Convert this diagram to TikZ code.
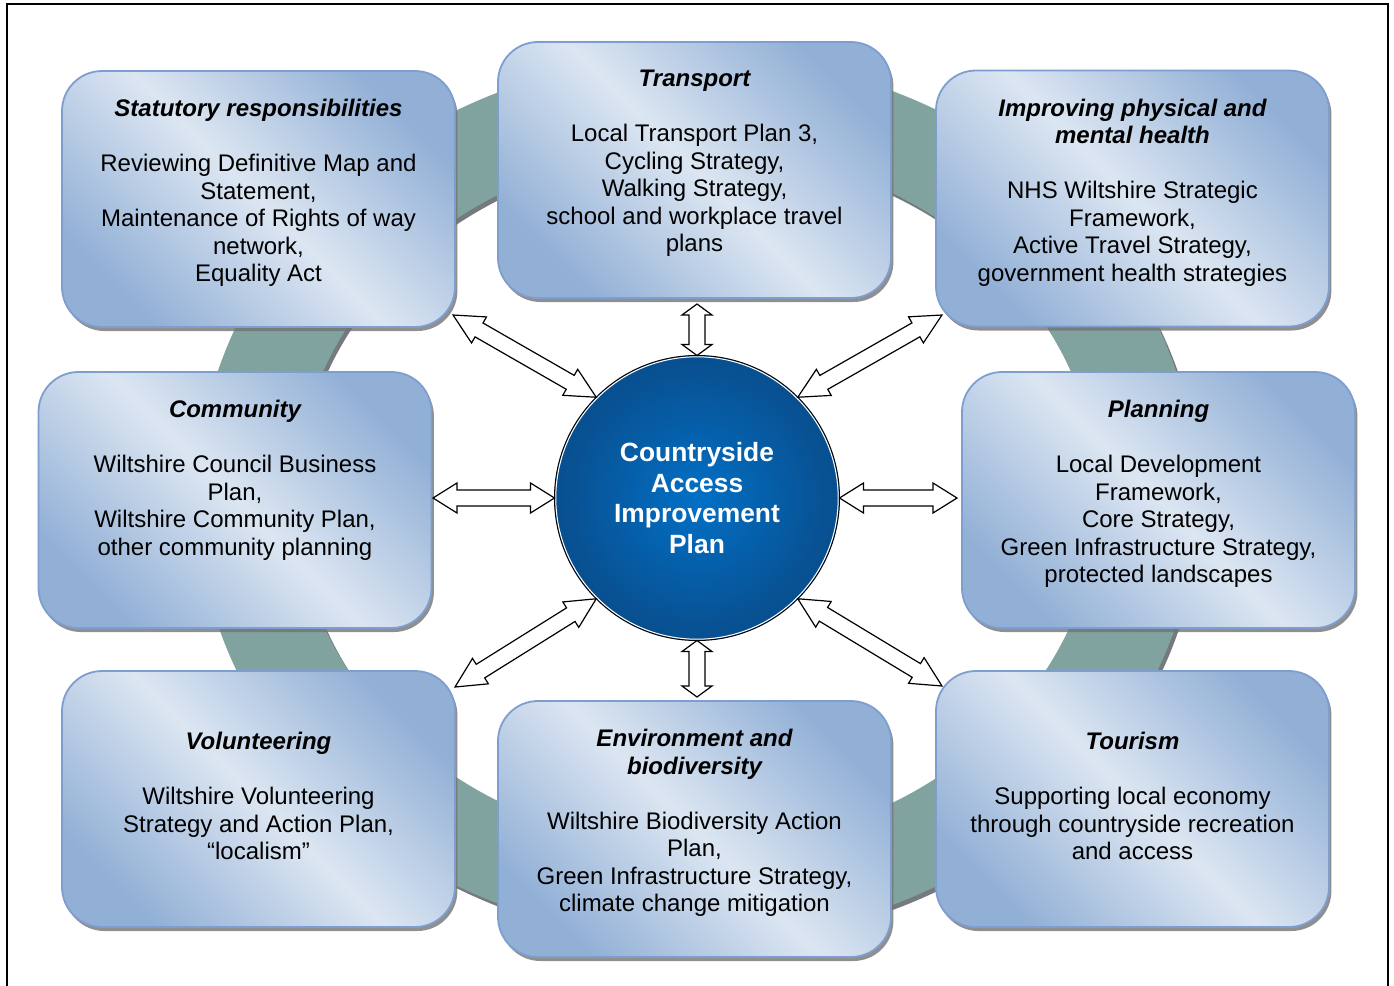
\documentclass[tikz,border=0pt]{standalone}
\usepackage{fontspec}
\setmainfont{Liberation Sans}
\usetikzlibrary{calc,positioning,shadows}

\definecolor{panellight}{RGB}{220,230,242}
\definecolor{panelblue}{RGB}{146,176,214}
\definecolor{panelline}{RGB}{125,158,206}
\definecolor{ringteal}{RGB}{128,163,159}
\definecolor{ringshade}{RGB}{118,122,126}
\definecolor{hubmid}{RGB}{2,112,198}
\definecolor{hubhalf}{RGB}{8,82,148}
\definecolor{hubrim}{RGB}{10,60,106}

\pgfdeclareradialshading{hubglow}{\pgfpoint{0bp}{0bp}}{%
	color(0bp)=(hubmid); color(22bp)=(hubhalf); color(50bp)=(hubrim)}

\tikzset{
	panel/.style={
			rounded corners=20pt, minimum width=196.5pt, minimum height=128pt,
			inner sep=0pt, outer sep=0pt, draw=panelline, line width=0.9pt,
			top color=panelblue, bottom color=panelblue, middle color=panellight,
			shading angle=-45,
			drop shadow={shadow xshift=1.2pt, shadow yshift=-2pt, fill=black!55, opacity=0.8}
		},
	paneltxt/.style={
			align=center, inner sep=0pt,
			font=\fontsize{12}{13.75}\selectfont
		},
	hub/.style={
			circle, minimum size=142.5pt, inner sep=0pt, outer sep=0pt,
			shading=hubglow, draw=black, line width=0.5pt, text=white, align=center,
			font=\bfseries\fontsize{13.2}{15.35}\selectfont
		},
	blockarrow/.style={draw=black, fill=white, line width=0.6pt, line join=miter}
}

\newcommand\titleline[1]{{\bfseries\itshape #1}}
\newcommand\paneltitle[1]{\titleline{#1}\\[13.75pt]}

% hollow two-headed arrow between two points, #1 = head length
\newcommand\dblarrow[3][15pt]{%
	\draw[blockarrow] (#2)
	-- ($(#2)!#1!(#3)!7.5pt!90:(#3)$)
	-- ($(#2)!#1!(#3)!4pt!90:(#3)$)
	-- ($(#3)!#1!(#2)!4pt!-90:(#2)$)
	-- ($(#3)!#1!(#2)!7.5pt!-90:(#2)$)
	-- (#3)
	-- ($(#3)!#1!(#2)!7.5pt!90:(#2)$)
	-- ($(#3)!#1!(#2)!4pt!90:(#2)$)
	-- ($(#2)!#1!(#3)!4pt!-90:(#3)$)
	-- ($(#2)!#1!(#3)!7.5pt!-90:(#3)$)
	-- cycle;}

\begin{document}
\begin{tikzpicture}[x=0.5pt,y=-0.5pt]
	\useasboundingbox (0,0) rectangle (1394,986);

	% frame
	\draw[line width=1pt] (7,995) -- (7,4) -- (1388,4) -- (1388,995);

	% ring behind the panels
	\fill[ringshade, even odd rule, xshift=1.5pt, yshift=-2pt]
	(697,498) ellipse [x radius=250pt, y radius=221pt]
	(697,498) ellipse [x radius=200.5pt, y radius=174.5pt];
	\fill[ringteal, even odd rule]
	(697,498) ellipse [x radius=250pt, y radius=221pt]
	(697,498) ellipse [x radius=200.5pt, y radius=174.5pt];

	% panels
	\node[panel] (stat) at (258.5,199) {};
	\node[panel] (trans) at (694.5,170) {};
	\node[panel] (health) at (1132.5,198.5) {};
	\node[panel] (comm) at (235,500) {};
	\node[panel] (plan) at (1158.5,500) {};
	\node[panel] (volun) at (258.5,799) {};
	\node[panel] (env) at (694.5,829) {};
	\node[panel] (tour) at (1132.5,799) {};

	\node[paneltxt, below=14pt of stat.north] (stattxt) {\paneltitle{Statutory responsibilities}
		Reviewing Definitive Map and\\ Statement,\\ Maintenance of Rights of way\\ network,\\ Equality Act};
	\node[paneltxt, below=14pt of trans.north] (transtxt) {\paneltitle{Transport}
		Local Transport Plan 3,\\ Cycling Strategy,\\ Walking Strategy,\\ school and workplace travel\\ plans};
	\node[paneltxt, below=14pt of health.north] (healthtxt) {\titleline{Improving physical and}\\ \paneltitle{mental health}
		NHS Wiltshire Strategic\\ Framework,\\ Active Travel Strategy,\\ government health strategies};
	\node[paneltxt, below=14pt of comm.north] (commtxt) {\paneltitle{Community}
		Wiltshire Council Business\\ Plan,\\ Wiltshire Community Plan,\\ other community planning};
	\node[paneltxt, below=14pt of plan.north] (plantxt) {\paneltitle{Planning}
		Local Development\\ Framework,\\ Core Strategy,\\ Green Infrastructure Strategy,\\ protected landscapes};
	\node[paneltxt, below=30.5pt of volun.north] (voluntxt) {\paneltitle{Volunteering}
		Wiltshire Volunteering\\ Strategy and Action Plan,\\ “localism”};
	\node[paneltxt, below=14pt of env.north] (envtxt) {\titleline{Environment and}\\ \paneltitle{biodiversity}
		Wiltshire Biodiversity Action\\ Plan,\\ Green Infrastructure Strategy,\\ climate change mitigation};
	\node[paneltxt, below=30.5pt of tour.north] (tourtxt) {\paneltitle{Tourism}
		Supporting local economy\\ through countryside recreation\\ and access};

	% centre
	\node[hub] (hub) at (697,498) {Countryside\\ Access\\ Improvement\\ Plan};
	\draw[white, line width=0.5pt] (hub.center) circle [radius=70.6pt];

	% outer ends of the arrows
	\coordinate (ul) at (453,315);
	\coordinate (ur) at (942,315);
	\coordinate (ll) at (455,687);
	\coordinate (lr) at (942,686);
	\coordinate (lt) at (433,498);
	\coordinate (rt) at (957,498);
	\coordinate (up) at (697,304);
	\coordinate (dn) at (697,697);

	\dblarrow{ul}{hub.135}
	\dblarrow{ur}{hub.45}
	\dblarrow{ll}{hub.225}
	\dblarrow{lr}{hub.-45}
	\dblarrow[12pt]{lt}{hub.west}
	\dblarrow[12pt]{rt}{hub.east}
	\dblarrow[5.5pt]{up}{hub.north}
	\dblarrow[5.5pt]{dn}{hub.south}
\end{tikzpicture}
\end{document}
